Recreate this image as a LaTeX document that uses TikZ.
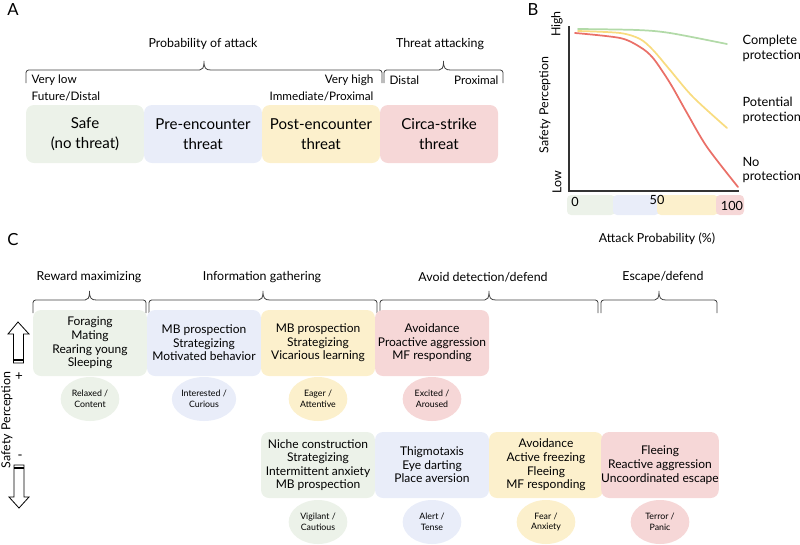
\documentclass[tikz,border=0pt]{standalone}
\usepackage{fontspec}
\setmainfont{Lato}
\usepackage{xcolor}
\usetikzlibrary{positioning,decorations.pathreplacing,shapes.geometric}

\definecolor{safegreen}{RGB}{236,242,233}
\definecolor{preblue}{RGB}{233,237,249}
\definecolor{postyellow}{RGB}{252,240,204}
\definecolor{circared}{RGB}{246,215,215}
\definecolor{linegreen}{RGB}{178,218,168}
\definecolor{lineyellow}{RGB}{248,220,128}
\definecolor{linered}{RGB}{234,112,104}

% square bracket with a small cusp: left x, right x, y of the tips
\newcommand{\bracket}[3]{%
  \pgfmathsetmacro{\bmid}{(#1+#2)/2}
  \draw[bracebar] (#1,#3) [rounded corners=2pt] -- (#1,#3-13) -- (\bmid-7,#3-13)
    [sharp corners] .. controls (\bmid-1.5,#3-13) and (\bmid,#3-15) .. (\bmid,#3-22)
    .. controls (\bmid,#3-15) and (\bmid+1.5,#3-13) .. (\bmid+7,#3-13)
    [rounded corners=2pt] -- (#2,#3-13) -- (#2,#3);
}

\begin{document}
\begin{tikzpicture}[x=0.75pt, y=-0.75pt,
    every node/.style={font=\fontsize{9.3}{11}\selectfont, inner sep=1pt},
    panel/.style={font=\fontsize{12.5}{14}\selectfont},
    small/.style={font=\fontsize{8.8}{10}\selectfont},
    zonebox/.style={rounded corners=6pt, minimum width=88.5pt, minimum height=43.5pt,
                    inner sep=0pt, align=center, font=\fontsize{11.3}{15}\selectfont},
    actbox/.style={rounded corners=6pt, minimum width=85.5pt, minimum height=49.5pt,
                   inner sep=0pt, align=center, font=\fontsize{9}{10.2}\selectfont},
    mood/.style={ellipse, minimum width=44pt, minimum height=33pt, inner sep=0pt,
                 align=center, font=\fontsize{6.6}{8.2}\selectfont},
    bracebar/.style={line width=0.6pt, black!75},
    curve/.style={line width=1.3pt, line cap=round},
  ]
  \useasboundingbox (0,0) rectangle (800,544);

  % --- Panel A: threat zones ---
  \node[panel] (labA) at (13,10) {A};
  \foreach \nm/\txt/\col [count=\i from 0] in {
      safe/{Safe\\(no threat)}/safegreen,
      pre/{Pre-encounter\\threat}/preblue,
      post/{Post-encounter\\threat}/postyellow,
      circa/{Circa-strike\\threat}/circared} {
    \node[zonebox, fill=\col] (\nm) at (85+118*\i,134) {\txt};
  }
  \bracket{26}{382}{83}
  \bracket{384}{503}{83}
  \node (probtxt) at (203,44) {Probability of attack};
  \node (attxt) at (440,44) {Threat attacking};
  \node[small, anchor=west] (vlow) at (30,80) {Very low};
  \node[small, anchor=west] (fut) at (30,96) {Future/Distal};
  \node[small, anchor=east] (vhigh) at (375,80) {Very high};
  \node[small, anchor=east] (imm) at (375,96) {Immediate/Proximal};
  \node[small, anchor=west] (dist) at (388,80) {Distal};
  \node[small, anchor=east] (prox) at (500,80) {Proximal};

  % --- Panel B: safety curves ---
  \node[panel] (labB) at (533,10) {B};
  \fill[safegreen, rounded corners=3pt] (567,195) rectangle (615,215);
  \fill[preblue, rounded corners=3pt] (613,195) rectangle (659,215);
  \fill[postyellow, rounded corners=3pt] (657,195) rectangle (718,215);
  \fill[circared, rounded corners=3pt] (716,195) rectangle (744,215);
  \coordinate (ytop) at (569,26);
  \coordinate (orig) at (569,191);
  \coordinate (xend) at (739,191);
  \draw[line width=1pt, black!80] (ytop) -- (orig) -- (xend);
  \draw[curve, linegreen] plot[smooth] coordinates {(578,29) (637,30) (670,33) (727,44)};
  \draw[curve, lineyellow] plot[smooth] coordinates {(578,31) (620,33) (640,39) (653,50) (670,70) (693,97) (727,128)};
  \draw[curve, linered] plot[smooth] coordinates {(575,33) (620,38) (640,47) (653,58) (670,83) (687,113) (707,147) (738,187)};
  \node[font=\fontsize{9.5}{10}\selectfont] (t0) at (575,202) {0};
  \node[font=\fontsize{9.5}{10}\selectfont] (t50) at (657,200) {50};
  \node[font=\fontsize{9.5}{10}\selectfont] (t100) at (732,206) {100};
  \node (xlab) at (657,239) {Attack Probability (\%)};
  \node[rotate=90] (ylab) at (545,105) {Safety Perception};
  \node[rotate=90] (yhigh) at (557,24) {High};
  \node[rotate=90] (ylow) at (557,182) {Low};
  \node[anchor=west, align=left, font=\fontsize{9.6}{11.2}\selectfont] (cprot) at (741,48) {Complete\\protection};
  \node[anchor=west, align=left, font=\fontsize{9.6}{11.2}\selectfont] (pprot) at (741,110) {Potential\\protection};
  \node[anchor=west, align=left, font=\fontsize{9.6}{11.2}\selectfont] (nprot) at (741,170) {No\\protection};

  % --- Panel C: behaviours ---
  \node[panel] (labC) at (13,240) {C};
  \node (hrew) at (89,277) {Reward maximizing};
  \node (hinfo) at (262,277) {Information gathering};
  \node (havoid) at (483,277) {Avoid detection/defend};
  \node (hesc) at (663,277) {Escape/defend};
  \bracket{33}{146}{313}
  \bracket{149}{377}{313}
  \bracket{380}{598}{313}
  \bracket{601}{717}{313}

  \foreach \txt/\col [count=\i from 0] in {
      {Foraging\\Mating\\Rearing young\\Sleeping}/safegreen,
      {MB prospection\\Strategizing\\Motivated behavior}/preblue,
      {MB prospection\\Strategizing\\Vicarious learning}/postyellow,
      {Avoidance\\Proactive aggression\\MF responding}/circared} {
    \node[actbox, fill=\col] (hi\i) at (90+114*\i,343) {\txt};
  }
  \foreach \txt/\col [count=\i from 0] in {
      {Relaxed /\\Content}/safegreen,
      {Interested /\\Curious}/preblue,
      {Eager /\\Attentive}/postyellow,
      {Excited /\\Aroused}/circared} {
    \node[mood, fill=\col] (him\i) at (90+114*\i,399) {\txt};
  }
  \foreach \txt/\col [count=\i from 0] in {
      {Niche construction\\Strategizing\\Intermittent anxiety\\MB prospection}/safegreen,
      {Thigmotaxis\\Eye darting\\Place aversion}/preblue,
      {Avoidance\\Active freezing\\Fleeing\\MF responding}/postyellow,
      {Fleeing\\Reactive aggression\\Uncoordinated escape}/circared} {
    \node[actbox, fill=\col] (lo\i) at (318+114*\i,465) {\txt};
  }
  \foreach \txt/\col [count=\i from 0] in {
      {Vigilant /\\Cautious}/safegreen,
      {Alert /\\Tense}/preblue,
      {Fear /\\Anxiety}/postyellow,
      {Terror /\\Panic}/circared} {
    \node[mood, fill=\col] (lom\i) at (318+114*\i,522) {\txt};
  }

  % safety perception arrows
  \draw[line width=0.6pt] (18,322) -- (29,334) -- (23.5,334) -- (23.5,363)
    -- (13.5,363) -- (13.5,334) -- (8,334) -- cycle;
  \draw[line width=1.4pt] (13.5,360) -- (23.5,360);
  \draw[line width=0.6pt] (19,508) -- (29,497) -- (24,497) -- (24,465)
    -- (14,465) -- (14,497) -- (9,497) -- cycle;
  \draw[line width=1.4pt] (14,468) -- (24,468);
  \node[font=\fontsize{10}{10}\selectfont] (plus) at (19,377) {+};
  \node[font=\fontsize{10}{10}\selectfont] (minus) at (20,457) {-};
  \node[rotate=90] (sperc) at (7,420) {Safety Perception};
\end{tikzpicture}
\end{document}
